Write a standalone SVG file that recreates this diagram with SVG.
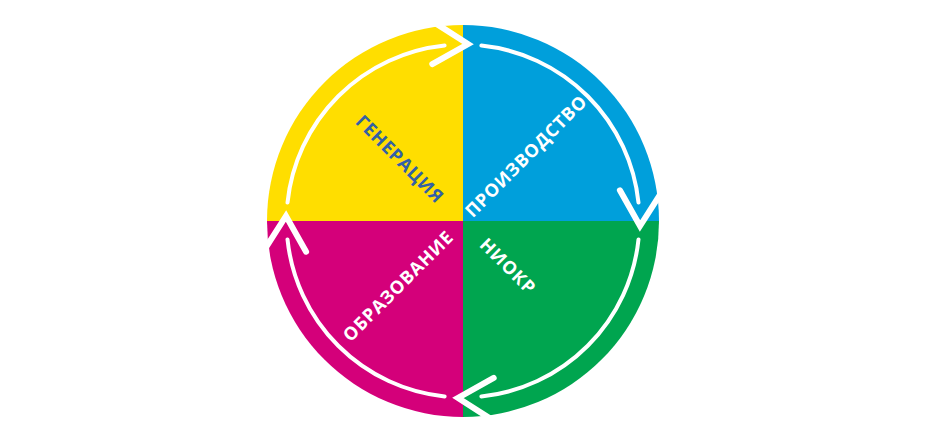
<svg xmlns="http://www.w3.org/2000/svg" xmlns:xlink="http://www.w3.org/1999/xlink" width="950" height="437" viewBox="0 0 950 437">
  <style>
    .lbl { font-family: "Open Sans", "Liberation Sans", sans-serif; font-weight: bold; font-size: 18px; letter-spacing: 0.8px; text-anchor: middle; }
    .white { fill: #FFFFFF; }
    .dark { fill: #3360A6; }
    .arc { fill: none; stroke: #FFFFFF; stroke-width: 4; stroke-linecap: round; }
    .chev { fill: none; stroke: #FFFFFF; stroke-width: 6; stroke-linecap: round; stroke-linejoin: miter; }
  </style>
  <defs>
    <path id="chevron" class="chev" d="M432.3,64.1 L468,44 L433.4,21.9"/>
  </defs>
  <rect width="950" height="437" fill="#FFFFFF"/>

  <g id="node-generaciya">
    <path d="M463,221 L267,221 A196,196 0 0 1 463,25 Z" fill="#FFDE00"/>
    <text class="lbl dark" transform="translate(400,159) rotate(45)" dy="0.36em">ГЕНЕРАЦИЯ</text>
  </g>
  <g id="node-proizvodstvo">
    <path d="M463,221 L463,25 A196,196 0 0 1 659,221 Z" fill="#009FDB"/>
    <text class="lbl white" transform="translate(526,156) rotate(-45)" dy="0.36em">ПРОИЗВОДСТВО</text>
  </g>
  <g id="node-niokr">
    <path d="M463,221 L659,221 A196,196 0 0 1 463,417 Z" fill="#00A54F"/>
    <text class="lbl white" transform="translate(508,266) rotate(45)" dy="0.36em">НИОКР</text>
  </g>
  <g id="node-obrazovanie">
    <path d="M463,221 L463,417 A196,196 0 0 1 267,221 Z" fill="#D4007A"/>
    <text class="lbl white" transform="translate(398,286) rotate(-45)" dy="0.36em">ОБРАЗОВАНИЕ</text>
  </g>

  <g id="connectors">
    <path class="arc" d="M287.5,202.6 A176.5,176.5 0 0 1 444.6,45.5"/>
    <path class="arc" d="M481.4,45.5 A176.5,176.5 0 0 1 638.5,202.6"/>
    <path class="arc" d="M638.5,239.4 A176.5,176.5 0 0 1 481.4,396.5"/>
    <path class="arc" d="M444.6,396.5 A176.5,176.5 0 0 1 287.5,239.4"/>
    <use xlink:href="#chevron"/>
    <use xlink:href="#chevron" transform="rotate(90 463 221)"/>
    <use xlink:href="#chevron" transform="rotate(180 463 221)"/>
    <use xlink:href="#chevron" transform="rotate(270 463 221)"/>
  </g>
</svg>
